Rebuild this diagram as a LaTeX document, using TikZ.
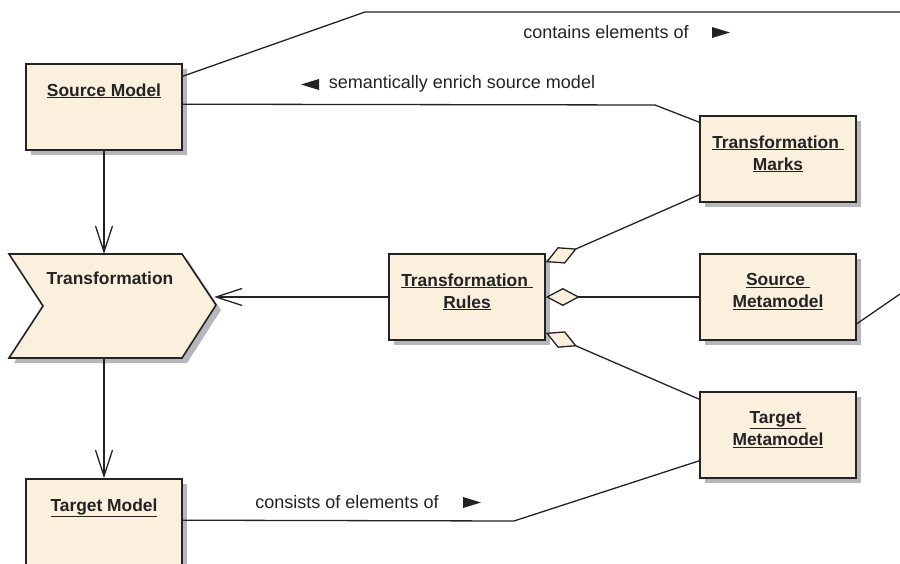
\documentclass[tikz,border=0pt]{standalone}
\usepackage{fontspec}
\setmainfont{Liberation Sans}
\usetikzlibrary{arrows.meta,calc,shadows}
\definecolor{boxfill}{RGB}{251,239,222}
\definecolor{shadowgray}{RGB}{182,182,188}
\definecolor{ink}{RGB}{35,35,35}

\begin{document}
\begin{tikzpicture}[x=1pt,y=-1pt,
  umlbox/.style={draw=ink, line width=1.6pt, fill=boxfill,
    minimum width=156pt, minimum height=86pt, inner sep=0pt,
    drop shadow={shadow xshift=5pt, shadow yshift=-5pt, fill=shadowgray, opacity=1}},
  title/.style={font=\fontsize{17.4}{22}\selectfont\bfseries, align=center,
    anchor=north, inner sep=0pt, text=ink},
  lbl/.style={font=\fontsize{18}{20}\selectfont, inner sep=0pt, text=ink},
  conn/.style={draw=ink, line width=1.3pt},
  flow/.style={-{Straight Barb[length=26pt,width=17pt,line width=1.3pt]}},
  agg/.style={{Diamond[length=34pt,width=18pt,fill=boxfill,line width=1.3pt]}-},
  marker/.style={fill=ink}]
\useasboundingbox (0,0) rectangle (900,564);

% class boxes
\node[umlbox] (sm)  at (104,107) {};
\node[umlbox] (tm)  at (778,159) {};
\node[umlbox] (tr)  at (467,297) {};
\node[umlbox] (smm) at (778,297) {};
\node[umlbox] (tmm) at (778,435) {};
\node[umlbox] (tgm) at (104,522) {};

\node[title] (smt)  at ($(sm.north)+(0,20)$)  {\underline{Source Model}};
\node[title] (tmt)  at ($(tm.north)+(0,20)$)  {\underline{Transformation\ }\\\underline{Marks}};
\node[title] (trt)  at ($(tr.north)+(0,20)$)  {\underline{Transformation\ }\\\underline{Rules}};
\node[title] (smmt) at ($(smm.north)+(0,20)$) {\underline{Source\ }\\\underline{Metamodel}};
\node[title] (tmmt) at ($(tmm.north)+(0,20)$) {\underline{Target\ }\\\underline{Metamodel}};
\node[title] (tgmt) at ($(tgm.north)+(0,20)$) {\underline{Target Model}};

% transformation activity (chevron)
\fill[shadowgray] (14,259) -- (187,259) -- (221,310) -- (187,363) -- (14,363) -- (48,311) -- cycle;
\filldraw[fill=boxfill, draw=ink, line width=1.6pt]
  (9,254) -- (182,254) -- (216,305) -- (182,358) -- (9,358) -- (43,306) -- cycle;
\node[title, anchor=center] (tft) at (110,278) {Transformation};
\coordinate (tftop) at (104,254);
\coordinate (tfbot) at (104,358);
\coordinate (tfin)  at (214,297);

% flow arrows
\draw[conn,flow] (sm.south) -- (tftop);
\draw[conn,flow] (tfbot) -- (tgm.north);
\draw[conn,flow] (tr.west) -- (tfin);

% associations
\coordinate (topright) at (900,12);
\draw[conn] ($(sm.north east)+(0,13)$) -- (365,12) -- (topright);
\draw[conn] ($(sm.north east)+(0,41)$) -- (655,105) -- ($(tm.north west)+(0,7)$);
\coordinate (smmout) at (900,294);
\draw[conn] ($(smm.south east)+(0,-17)$) -- (smmout);
\draw[conn] ($(tmm.south west)+(0,-18)$) -- (514,521) -- ($(tgm.north east)+(0,42)$);

% aggregations of the rules
\draw[conn,agg] ($(tr.north east)+(0,9)$) -- ($(tm.south west)+(0,-8)$);
\draw[conn,agg] (tr.east) -- (smm.west);
\draw[conn,agg] ($(tr.south east)+(0,-8)$) -- ($(tmm.north west)+(0,8)$);

% association labels with direction markers
\node[lbl] (l1) at (606,32) {contains elements of};
\fill[marker] (712,27) -- (730,32.5) -- (712,38) -- cycle;
\node[lbl] (l2) at (462,84) {semantically enrich source model};
\fill[marker] (319,79) -- (301,84.5) -- (319,90) -- cycle;
\node[lbl] (l3) at (347,502) {consists of elements of};
\fill[marker] (463,497) -- (481,502.5) -- (463,508) -- cycle;
\end{tikzpicture}
\end{document}
